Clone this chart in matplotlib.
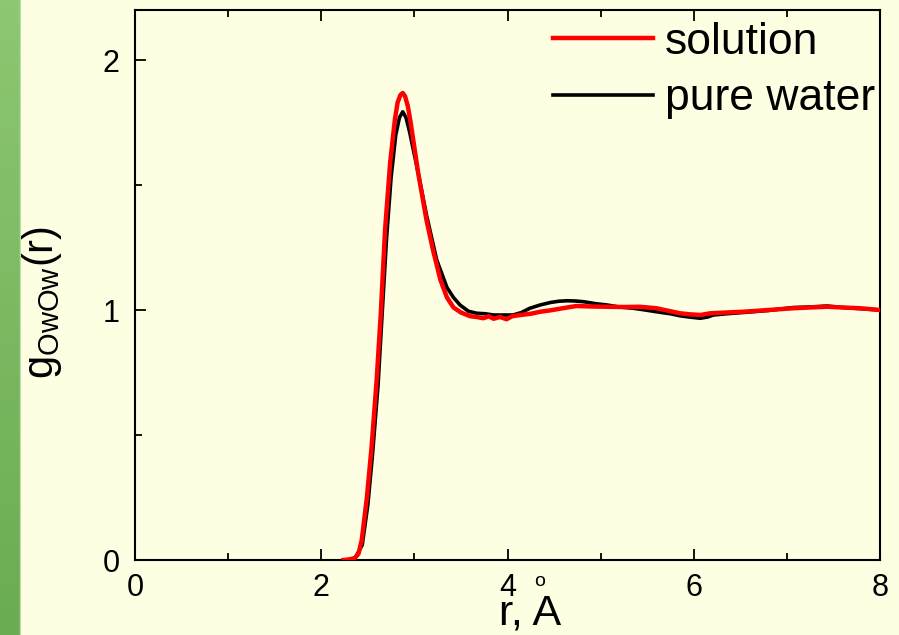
import matplotlib
matplotlib.use('Agg')
import matplotlib.pyplot as plt
import numpy as np
from matplotlib.colors import LinearSegmentedColormap

plt.rcParams['font.family'] = ['Liberation Sans', 'DejaVu Sans']
plt.rcParams['mathtext.default'] = 'regular'

# g(r)
r_solution = [2.24, 2.30, 2.36, 2.40, 2.435, 2.49, 2.54, 2.595, 2.64, 2.685, 2.74, 2.79, 2.82, 2.85,
              2.875, 2.90, 2.93, 2.96, 3.04, 3.13, 3.20, 3.28, 3.35, 3.42, 3.50, 3.60, 3.67, 3.74,
              3.80, 3.85, 3.92, 3.99, 4.05, 4.14, 4.25, 4.35, 4.45, 4.53, 4.64, 4.74, 4.90, 5.07,
              5.25, 5.42, 5.60, 5.75, 5.85, 5.95, 6.07, 6.18, 6.35, 6.53, 6.80, 7.07, 7.25, 7.43,
              7.60, 7.79, 8.0]
g_solution = [0.0, 0.002, 0.008, 0.025, 0.08, 0.25, 0.45, 0.72, 0.99, 1.32, 1.59, 1.76, 1.83, 1.86,
              1.868, 1.855, 1.815, 1.75, 1.55, 1.36, 1.24, 1.12, 1.05, 1.01, 0.99, 0.975, 0.972, 0.967,
              0.975, 0.965, 0.972, 0.963, 0.975, 0.98, 0.985, 0.993, 0.998, 1.003, 1.01, 1.016, 1.014, 1.013,
              1.012, 1.013, 1.007, 0.995, 0.987, 0.983, 0.98, 0.987, 0.99, 0.993, 1.0, 1.007, 1.01, 1.013,
              1.01, 1.007, 1.0]

r_water = [2.25, 2.36, 2.44, 2.50, 2.55, 2.61, 2.65, 2.70, 2.75, 2.80, 2.84, 2.875, 2.91, 2.95,
           3.04, 3.13, 3.24, 3.35, 3.42, 3.49, 3.58, 3.67, 3.76, 3.85, 3.95, 4.06, 4.15, 4.24,
           4.35, 4.46, 4.55, 4.64, 4.73, 4.82, 4.95, 5.07, 5.20, 5.35, 5.48, 5.60, 5.75, 5.85,
           5.95, 6.07, 6.15, 6.21, 6.35, 6.53, 6.80, 7.07, 7.25, 7.43, 7.60, 7.80, 8.0]
g_water = [0.0, 0.005, 0.06, 0.22, 0.42, 0.70, 0.96, 1.28, 1.53, 1.70, 1.77, 1.793, 1.77, 1.71,
           1.55, 1.38, 1.20, 1.09, 1.05, 1.02, 0.995, 0.987, 0.985, 0.98, 0.98, 0.98, 0.99, 1.007,
           1.02, 1.03, 1.035, 1.037, 1.036, 1.033, 1.025, 1.02, 1.012, 1.007, 1.0, 0.993, 0.985, 0.977,
           0.972, 0.967, 0.972, 0.98, 0.985, 0.99, 0.998, 1.01, 1.012, 1.016, 1.01, 1.005, 1.0]

bg = '#FEFEE2'
fig = plt.figure(figsize=(8.99, 6.35), dpi=100, facecolor=bg)

# green strip on the left edge
strip = fig.add_axes([0, 0, 21/899, 1])
cmap = LinearSegmentedColormap.from_list('g', ['#8DC771', '#6AAC52'])
strip.imshow(np.linspace(0, 1, 100).reshape(-1, 1), aspect='auto', cmap=cmap, extent=[0, 1, 0, 1])
strip.axvline(0.97, color='#B9DEA4', lw=1)
strip.set_axis_off()

ax = fig.add_axes([135/899, 75/635, 745/899, 550/635])
ax.set_facecolor(bg)
ax.plot(r_water, g_water, color='black', lw=2.6, label='pure water', zorder=2)
ax.plot(r_solution, g_solution, color='#FF0000', lw=3.2, label='solution', zorder=3)

ax.set_xlim(0, 8)
ax.set_ylim(0, 2.2)
ax.set_xticks([0, 2, 4, 6, 8])
ax.set_xticks([1, 3, 5, 7], minor=True)
ax.set_yticks([0, 1, 2])
ax.set_yticks([0.5, 1.5], minor=True)
for s in ax.spines.values():
    s.set_linewidth(1.5)
ax.tick_params(which='both', direction='in', top=True, right=False, width=1.3)
ax.tick_params(which='major', length=8, labelsize=22)
ax.tick_params(axis='x', which='major', pad=9)
ax.tick_params(axis='y', which='major', pad=11)
ax.tick_params(which='minor', length=5)

h, l = ax.get_legend_handles_labels()
ax.legend([h[1], h[0]], [l[1], l[0]], loc='upper left', bbox_to_anchor=(553/899, 1 - 22/635),
          bbox_transform=fig.transFigure, frameon=False, fontsize=32, handlelength=2.25,
          handletextpad=0.27, labelspacing=0.34, borderpad=0, borderaxespad=0)

fig.text(530/899, 10/635, 'r, A', fontsize=31, ha='center', va='baseline')
fig.text(540/899, 1 - 582/635, 'o', fontsize=14, ha='center', va='center')
fig.text(42/899, 1 - 302/635, r'g$_{OwOw}$(r)', fontsize=30, rotation=90, ha='center', va='center')

plt.savefig('out.png', dpi=100, facecolor=bg)
